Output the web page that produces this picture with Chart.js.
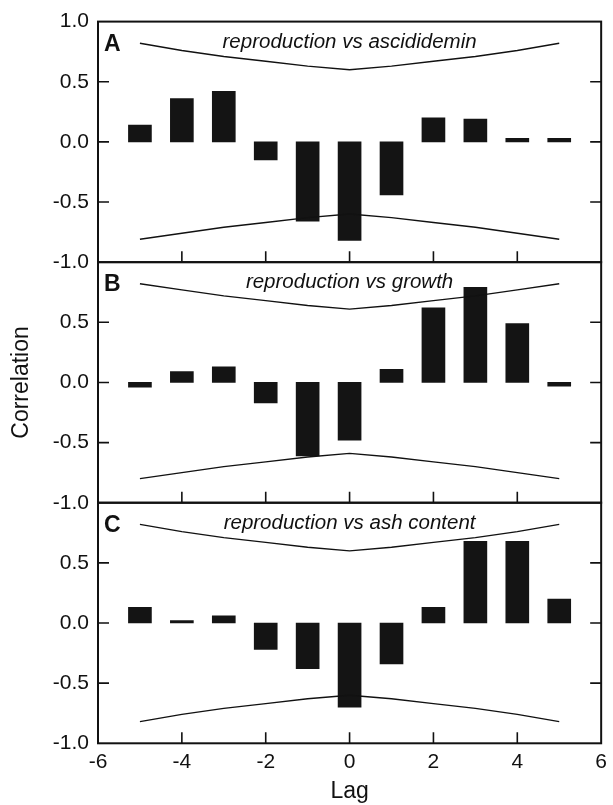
<!DOCTYPE html>
<html>
<head>
<meta charset="utf-8">
<script src="https://cdn.jsdelivr.net/npm/chart.js@4"></script>
<style>
  html, body { margin:0; padding:0; background:#fff; }
  #wrap { position:relative; width:613px; height:805px; }
</style>
</head>
<body>
<div id="wrap"><canvas id="c" width="613" height="805"></canvas></div>
<script>
// ---- data ----
const lags = [-5, -4, -3, -2, -1, 0, 1, 2, 3, 4, 5];
const xTicks = [-6, -4, -2, 0, 2, 4, 6];
const yTicks = [-1.0, -0.5, 0.0, 0.5, 1.0];
const panelLetters = ['A', 'B', 'C'];
const panelTitles = ['reproduction vs ascididemin', 'reproduction vs growth', 'reproduction vs ash content'];

const corrA = [0.14, 0.36, 0.42, -0.15, -0.66, -0.82, -0.44, 0.20, 0.19, 0.03, 0.03];
const corrB = [-0.04, 0.09, 0.13, -0.17, -0.61, -0.48, 0.11, 0.62, 0.79, 0.49, -0.03];
const corrC = [0.13, 0.02, 0.06, -0.22, -0.38, -0.70, -0.34, 0.13, 0.68, 0.68, 0.20];

const upperA = [0.82, 0.76, 0.71, 0.67, 0.63, 0.60, 0.63, 0.67, 0.71, 0.76, 0.82];
const lowerA = [-0.81, -0.76, -0.71, -0.67, -0.63, -0.60, -0.63, -0.67, -0.71, -0.76, -0.81];
const upperB = [0.82, 0.77, 0.72, 0.68, 0.64, 0.61, 0.64, 0.68, 0.72, 0.77, 0.82];
const lowerB = [-0.80, -0.75, -0.70, -0.66, -0.62, -0.59, -0.62, -0.66, -0.70, -0.75, -0.80];
const upperC = [0.82, 0.76, 0.71, 0.67, 0.63, 0.60, 0.63, 0.67, 0.71, 0.76, 0.82];
const lowerC = [-0.82, -0.76, -0.71, -0.67, -0.63, -0.60, -0.63, -0.67, -0.71, -0.76, -0.82];

// ---- styling ----
const FONT = "'Liberation Sans', Arial, Helvetica, sans-serif";
const INK = '#111111';
const BAR = '#141414';

const pts = arr => lags.map((l, i) => ({ x: l, y: arr[i] }));

const panels = [
  { id: 'yA', corr: corrA, up: upperA, lo: lowerA },
  { id: 'yB', corr: corrB, up: upperB, lo: lowerB },
  { id: 'yC', corr: corrC, up: upperC, lo: lowerC }
];

const datasets = [];
panels.forEach(p => {
  datasets.push({
    type: 'bar', data: pts(p.corr), yAxisID: p.id, xAxisID: 'x',
    backgroundColor: BAR, borderWidth: 0, barThickness: 23, grouped: false, order: 2
  });
  [p.up, p.lo].forEach(arr => datasets.push({
    type: 'line', data: pts(arr), yAxisID: p.id, xAxisID: 'x',
    borderColor: INK, borderWidth: 1.4, pointRadius: 0, fill: false, tension: 0, order: 1
  }));
});

function yAxis(showTop, withTitle) {
  return {
    type: 'linear', position: 'left', stack: 'panels', stackWeight: 1,
    min: yTicks[0], max: yTicks[yTicks.length - 1],
    grid: { display: false, drawTicks: false },
    border: { display: false },
    afterBuildTicks: s => { s.ticks = yTicks.map(v => ({ value: v })); },
    ticks: {
      padding: 9, color: INK, font: { family: FONT, size: 21 },
      callback: v => (v === 1 && !showTop) ? null : Number(v).toFixed(1)
    },
    title: withTitle
      ? { display: true, text: 'Correlation', color: INK, font: { family: FONT, size: 23 }, padding: { top: 8, bottom: 0 } }
      : { display: false },
    afterFit: s => { s.width = 98; }
  };
}

const framePlugin = {
  id: 'frame',
  afterDatasetsDraw(chart) {
    const { ctx, chartArea } = chart;
    const xs = chart.scales.x;
    const L = chartArea.left, R = chartArea.right;
    ctx.save();
    panels.forEach((p, k) => {
      const s = chart.scales[p.id];
      const top = s.getPixelForValue(1), bot = s.getPixelForValue(-1);
      ctx.strokeStyle = INK;
      ctx.lineWidth = 2;
      ctx.strokeRect(L, top, R - L, bot - top);
      ctx.lineWidth = 1.6;
      ctx.beginPath();
      [-0.5, 0, 0.5].forEach(v => {
        const y = s.getPixelForValue(v);
        ctx.moveTo(L, y); ctx.lineTo(L + 11, y);
        ctx.moveTo(R - 11, y); ctx.lineTo(R, y);
      });
      xTicks.slice(1, -1).forEach(v => {
        const x = xs.getPixelForValue(v);
        ctx.moveTo(x, bot); ctx.lineTo(x, bot - 11);
      });
      ctx.stroke();
      // panel letter
      ctx.fillStyle = INK;
      ctx.textBaseline = 'alphabetic';
      ctx.textAlign = 'left';
      ctx.font = `bold 23px ${FONT}`;
      ctx.fillText(panelLetters[k], L + 6, top + 29);
      // panel title
      ctx.textAlign = 'center';
      ctx.font = `italic 20.5px ${FONT}`;
      ctx.fillText(panelTitles[k], xs.getPixelForValue(0), top + 26);
    });
    ctx.restore();
  }
};

new Chart(document.getElementById('c'), {
  type: 'bar',
  data: { datasets },
  options: {
    responsive: false, animation: false, devicePixelRatio: 1,
    layout: { padding: { left: 0, right: 7.5, top: 19, bottom: 0 } },
    plugins: { legend: { display: false }, tooltip: { enabled: false } },
    scales: {
      x: {
        type: 'linear', position: 'bottom', min: xTicks[0], max: xTicks[xTicks.length - 1], offset: false,
        grid: { display: false, drawTicks: false, offset: false },
        border: { display: false },
        afterBuildTicks: s => { s.ticks = xTicks.map(v => ({ value: v })); },
        ticks: { padding: 6, color: INK, font: { family: FONT, size: 21 }, maxRotation: 0, autoSkip: false, callback: v => String(v) },
        title: { display: true, text: 'Lag', color: INK, font: { family: FONT, size: 23 }, padding: { top: 0, bottom: 0 } },
        afterFit: s => { s.height = 61.7; }
      },
      // stacked axes are laid out bottom-up in definition order
      yC: yAxis(false, false),
      yB: yAxis(false, true),
      yA: yAxis(true, false)
    }
  },
  plugins: [framePlugin]
});
</script>
</body>
</html>
